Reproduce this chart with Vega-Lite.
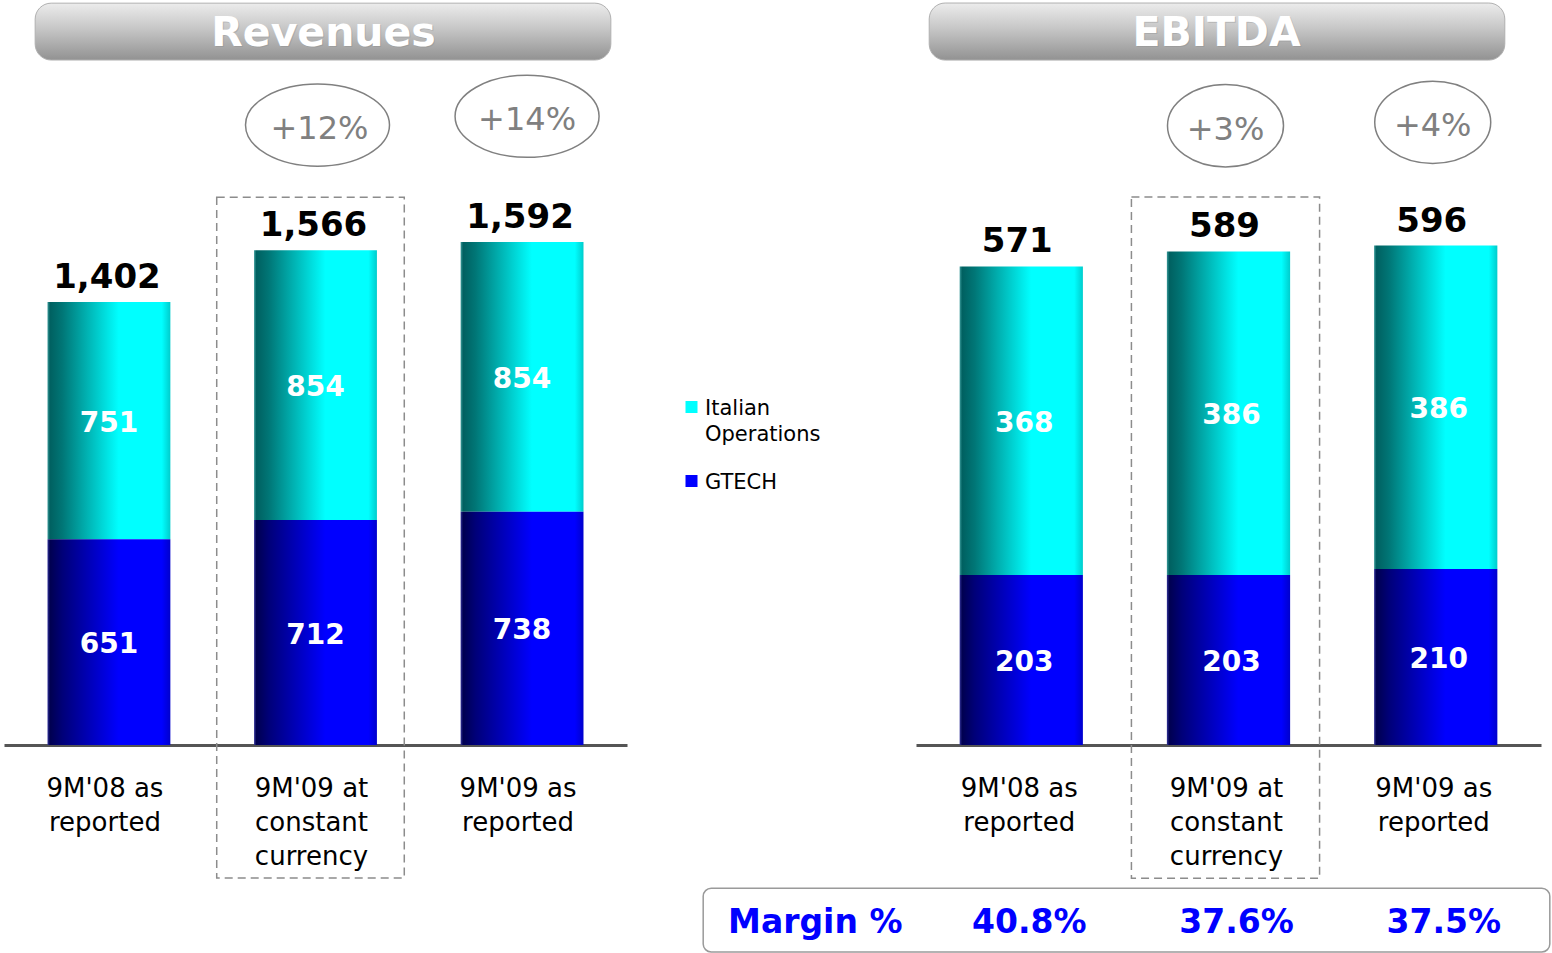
{
  "$schema": "https://vega.github.io/schema/vega-lite/v6.json",
  "background": "white",
  "padding": {"left": 4, "top": 0, "right": 0, "bottom": 0},
  "bounds": "flush",
  "spacing": 0,
  "config": {
    "view": {"stroke": null},
    "font": "DejaVu Sans",
    "text": {"font": "DejaVu Sans"}
  },
  "datasets": {
    "rev": [
      {"cat": "9M'08 as|reported", "series": "Italian Operations", "value": 751},
      {"cat": "9M'08 as|reported", "series": "GTECH", "value": 651},
      {"cat": "9M'09 at|constant|currency", "series": "Italian Operations", "value": 854},
      {"cat": "9M'09 at|constant|currency", "series": "GTECH", "value": 712},
      {"cat": "9M'09 as|reported", "series": "Italian Operations", "value": 854},
      {"cat": "9M'09 as|reported", "series": "GTECH", "value": 738}
    ],
    "ebitda": [
      {"cat": "9M'08 as|reported", "series": "Italian Operations", "value": 368},
      {"cat": "9M'08 as|reported", "series": "GTECH", "value": 203},
      {"cat": "9M'09 at|constant|currency", "series": "Italian Operations", "value": 386},
      {"cat": "9M'09 at|constant|currency", "series": "GTECH", "value": 203},
      {"cat": "9M'09 as|reported", "series": "Italian Operations", "value": 386},
      {"cat": "9M'09 as|reported", "series": "GTECH", "value": 210}
    ],
    "margin": [
      {"cat": "9M'08 as|reported", "margin": "40.8%"},
      {"cat": "9M'09 at|constant|currency", "margin": "37.6%"},
      {"cat": "9M'09 as|reported", "margin": "37.5%"}
    ]
  },
  "hconcat": [
    {
      "width": 623,
      "height": 745,
      "data": {"name": "rev"},
      "transform": [
        {"stack": "value", "groupby": ["cat"], "sort": [{"field": "series", "order": "ascending"}], "as": ["v0", "v1"]},
        {"calculate": "(datum.v0 + datum.v1) / 2", "as": "mid"}
      ],
      "layer": [
        {
          "transform": [{"filter": "datum.series == 'Italian Operations'"}],
          "mark": {"type": "bar", "width": {"band": 0.655}, "color": {"gradient": "linear", "x1": 0, "y1": 0, "x2": 1, "y2": 0, "stops": [{"offset": 0, "color": "#3a9a9a"}, {"offset": 0.02, "color": "#006060"}, {"offset": 0.12, "color": "#007676"}, {"offset": 0.58, "color": "#00ffff"}, {"offset": 0.93, "color": "#00ffff"}, {"offset": 1, "color": "#00cccc"}]}},
          "encoding": {
            "x": {"field": "cat", "type": "nominal", "sort": null,
              "scale": {"domain": ["9M'08 as|reported", "9M'09 at|constant|currency", "9M'09 as|reported"], "paddingInner": 0.092, "paddingOuter": 0.054},
              "axis": {"title": null, "domainColor": "#555555", "domainWidth": 3, "ticks": false, "labelFont": "DejaVu Sans", "labelFontSize": 26, "labelColor": "#000000", "labelPadding": 30, "labelAngle": 0, "labelLimit": 0, "labelLineHeight": 34, "labelExpr": "split(datum.label, '|')", "labelOffset": -4}},
            "y": {"field": "v1", "type": "quantitative", "scale": {"domain": [0, 2358], "nice": false, "zero": true}, "axis": null},
            "y2": {"field": "v0"}
          }
        },
        {
          "transform": [{"filter": "datum.series == 'GTECH'"}],
          "mark": {"type": "bar", "width": {"band": 0.655}, "color": {"gradient": "linear", "x1": 0, "y1": 0, "x2": 1, "y2": 0, "stops": [{"offset": 0, "color": "#333399"}, {"offset": 0.02, "color": "#000050"}, {"offset": 0.12, "color": "#000078"}, {"offset": 0.58, "color": "#0000ff"}, {"offset": 0.93, "color": "#0000ff"}, {"offset": 1, "color": "#0000cc"}]}},
          "encoding": {
            "x": {"field": "cat", "type": "nominal", "sort": null},
            "y": {"field": "v1", "type": "quantitative"},
            "y2": {"field": "v0"}
          }
        },
        {
          "mark": {"type": "text", "color": "white", "fontSize": 28, "fontWeight": "bold", "baseline": "middle", "dy": 3},
          "encoding": {
            "x": {"field": "cat", "type": "nominal", "sort": null},
            "y": {"field": "mid", "type": "quantitative"},
            "text": {"field": "value", "type": "quantitative", "format": ","}
          }
        },
        {
          "transform": [{"aggregate": [{"op": "sum", "field": "value", "as": "total"}], "groupby": ["cat"]}],
          "mark": {"type": "text", "color": "black", "fontSize": 34, "fontWeight": "bold", "baseline": "alphabetic", "dy": -14, "dx": -2},
          "encoding": {
            "x": {"field": "cat", "type": "nominal", "sort": null},
            "y": {"field": "total", "type": "quantitative"},
            "text": {"field": "total", "type": "quantitative", "format": ","}
          }
        },
        {
          "data": {"values": [{}]},
          "mark": {"type": "rect", "filled": false, "color": "#8c8c8c", "strokeWidth": 1.5, "strokeDash": [8, 5], "xOffset": -5},
          "encoding": {
            "x": {"datum": "9M'09 at|constant|currency"},
            "y": {"datum": 1734},
            "y2": {"datum": -421}
          }
        },
        {
          "data": {"values": [{}]},
          "mark": {"type": "rect", "cornerRadius": 16, "stroke": "#b0b0b0", "strokeWidth": 1, "fill": {"gradient": "linear", "x1": 0, "y1": 0, "x2": 0, "y2": 1, "stops": [{"offset": 0, "color": "#ececec"}, {"offset": 0.45, "color": "#c6c6c6"}, {"offset": 1, "color": "#929292"}]}, "xOffset": 20, "x2Offset": -5},
          "encoding": {
            "x": {"datum": "9M'08 as|reported", "bandPosition": 0},
            "x2": {"datum": "9M'09 as|reported", "bandPosition": 1},
            "y": {"datum": 2348},
            "y2": {"datum": 2168}
          }
        },
        {
          "data": {"values": [{"title": "Revenues"}]},
          "mark": {"type": "text", "color": "#888888", "opacity": 0.35, "fontSize": 41, "fontWeight": "bold", "baseline": "middle", "dx": 9, "dy": 3},
          "encoding": {
            "x": {"datum": "9M'09 at|constant|currency"},
            "y": {"datum": 2257},
            "text": {"field": "title"}
          }
        },
        {
          "data": {"values": [{"title": "Revenues"}]},
          "mark": {"type": "text", "color": "white", "fontSize": 41, "fontWeight": "bold", "baseline": "middle", "dx": 8, "dy": 2},
          "encoding": {
            "x": {"datum": "9M'09 at|constant|currency"},
            "y": {"datum": 2257},
            "text": {"field": "title"}
          }
        },
        {
          "data": {"values": [{}]},
          "mark": {"type": "point", "shape": "M-1,0A1,0.57,0,1,0,1,0A1,0.57,0,1,0,-1,0Z", "size": 20736, "filled": false, "color": "#808080", "strokeWidth": 1.5, "opacity": 1, "xOffset": 2},
          "encoding": {
            "x": {"datum": "9M'09 at|constant|currency"},
            "y": {"datum": 1962}
          }
        },
        {
          "data": {"values": [{"label": "+12%"}]},
          "mark": {"type": "text", "color": "#808080", "fontSize": 32, "baseline": "middle", "dx": 4, "dy": 4},
          "encoding": {
            "x": {"datum": "9M'09 at|constant|currency"},
            "y": {"datum": 1962},
            "text": {"field": "label"}
          }
        },
        {
          "data": {"values": [{}]},
          "mark": {"type": "point", "shape": "M-1,0A1,0.57,0,1,0,1,0A1,0.57,0,1,0,-1,0Z", "size": 20736, "filled": false, "color": "#808080", "strokeWidth": 1.5, "opacity": 1, "xOffset": 5},
          "encoding": {
            "x": {"datum": "9M'09 as|reported"},
            "y": {"datum": 1990}
          }
        },
        {
          "data": {"values": [{"label": "+14%"}]},
          "mark": {"type": "text", "color": "#808080", "fontSize": 32, "baseline": "middle", "dx": 5, "dy": 4},
          "encoding": {
            "x": {"datum": "9M'09 as|reported"},
            "y": {"datum": 1990},
            "text": {"field": "label"}
          }
        }
      ]
    },
    {
      "width": 289,
      "height": 745,
      "data": {"values": [{"series": "Italian Operations", "label": "Italian\nOperations"}, {"series": "GTECH", "label": "GTECH"}]},
      "layer": [
        {
          "mark": {"type": "point", "shape": "square", "filled": true, "size": 144, "opacity": 1},
          "encoding": {
            "x": {"datum": 0, "type": "quantitative", "scale": {"domain": [0, 1], "range": [64.5, 65.5]}, "axis": null},
            "y": {"field": "series", "type": "nominal", "scale": {"domain": ["Italian Operations", "GTECH"], "range": [407, 481], "padding": 0}, "axis": null},
            "color": {"field": "series", "type": "nominal", "scale": {"domain": ["Italian Operations", "GTECH"], "range": ["#00ffff", "#0000ff"]}, "legend": null}
          }
        },
        {
          "mark": {"type": "text", "align": "left", "baseline": "alphabetic", "dx": 13.5, "dy": 8, "fontSize": 21, "lineBreak": "\n", "lineHeight": 26, "color": "black"},
          "encoding": {
            "x": {"datum": 0, "type": "quantitative"},
            "y": {"field": "series", "type": "nominal"},
            "text": {"field": "label"}
          }
        }
      ]
    },
    {
      "width": 625,
      "height": 745,
      "data": {"name": "ebitda"},
      "transform": [
        {"stack": "value", "groupby": ["cat"], "sort": [{"field": "series", "order": "ascending"}], "as": ["v0", "v1"]},
        {"calculate": "(datum.v0 + datum.v1) / 2", "as": "mid"}
      ],
      "layer": [
        {
          "transform": [{"filter": "datum.series == 'Italian Operations'"}],
          "mark": {"type": "bar", "width": {"band": 0.655}, "color": {"gradient": "linear", "x1": 0, "y1": 0, "x2": 1, "y2": 0, "stops": [{"offset": 0, "color": "#3a9a9a"}, {"offset": 0.02, "color": "#006060"}, {"offset": 0.12, "color": "#007676"}, {"offset": 0.58, "color": "#00ffff"}, {"offset": 0.93, "color": "#00ffff"}, {"offset": 1, "color": "#00cccc"}]}},
          "encoding": {
            "x": {"field": "cat", "type": "nominal", "sort": null,
              "scale": {"domain": ["9M'08 as|reported", "9M'09 at|constant|currency", "9M'09 as|reported"], "paddingInner": 0.092, "paddingOuter": 0.054},
              "axis": {"title": null, "domainColor": "#555555", "domainWidth": 3, "ticks": false, "labelFont": "DejaVu Sans", "labelFontSize": 26, "labelColor": "#000000", "labelPadding": 30, "labelAngle": 0, "labelLimit": 0, "labelLineHeight": 34, "labelExpr": "split(datum.label, '|')", "labelOffset": -2}},
            "y": {"field": "v1", "type": "quantitative", "scale": {"domain": [0, 889], "nice": false, "zero": true}, "axis": null},
            "y2": {"field": "v0"}
          }
        },
        {
          "transform": [{"filter": "datum.series == 'GTECH'"}],
          "mark": {"type": "bar", "width": {"band": 0.655}, "color": {"gradient": "linear", "x1": 0, "y1": 0, "x2": 1, "y2": 0, "stops": [{"offset": 0, "color": "#333399"}, {"offset": 0.02, "color": "#000050"}, {"offset": 0.12, "color": "#000078"}, {"offset": 0.58, "color": "#0000ff"}, {"offset": 0.93, "color": "#0000ff"}, {"offset": 1, "color": "#0000cc"}]}},
          "encoding": {
            "x": {"field": "cat", "type": "nominal", "sort": null},
            "y": {"field": "v1", "type": "quantitative"},
            "y2": {"field": "v0"}
          }
        },
        {
          "mark": {"type": "text", "color": "white", "fontSize": 28, "fontWeight": "bold", "baseline": "middle", "dx": 3, "dy": 3},
          "encoding": {
            "x": {"field": "cat", "type": "nominal", "sort": null},
            "y": {"field": "mid", "type": "quantitative"},
            "text": {"field": "value", "type": "quantitative", "format": ","}
          }
        },
        {
          "transform": [{"aggregate": [{"op": "sum", "field": "value", "as": "total"}], "groupby": ["cat"]}],
          "mark": {"type": "text", "color": "black", "fontSize": 34, "fontWeight": "bold", "baseline": "alphabetic", "dy": -14, "dx": -4},
          "encoding": {
            "x": {"field": "cat", "type": "nominal", "sort": null},
            "y": {"field": "total", "type": "quantitative"},
            "text": {"field": "total", "type": "quantitative", "format": ","}
          }
        },
        {
          "data": {"values": [{}]},
          "mark": {"type": "rect", "filled": false, "color": "#8c8c8c", "strokeWidth": 1.5, "strokeDash": [8, 5], "xOffset": -3},
          "encoding": {
            "x": {"datum": "9M'09 at|constant|currency"},
            "y": {"datum": 654},
            "y2": {"datum": -159}
          }
        },
        {
          "data": {"values": [{}]},
          "mark": {"type": "rect", "cornerRadius": 16, "stroke": "#b0b0b0", "strokeWidth": 1, "fill": {"gradient": "linear", "x1": 0, "y1": 0, "x2": 0, "y2": 1, "stops": [{"offset": 0, "color": "#ececec"}, {"offset": 0.45, "color": "#c6c6c6"}, {"offset": 1, "color": "#929292"}]}, "xOffset": 2, "x2Offset": -25},
          "encoding": {
            "x": {"datum": "9M'08 as|reported", "bandPosition": 0},
            "x2": {"datum": "9M'09 as|reported", "bandPosition": 1},
            "y": {"datum": 885.4},
            "y2": {"datum": 817.3}
          }
        },
        {
          "data": {"values": [{"title": "EBITDA"}]},
          "mark": {"type": "text", "color": "#888888", "opacity": 0.35, "fontSize": 41, "fontWeight": "bold", "baseline": "middle", "dx": -11, "dy": 3},
          "encoding": {
            "x": {"datum": "9M'09 at|constant|currency"},
            "y": {"datum": 850.8},
            "text": {"field": "title"}
          }
        },
        {
          "data": {"values": [{"title": "EBITDA"}]},
          "mark": {"type": "text", "color": "white", "fontSize": 41, "fontWeight": "bold", "baseline": "middle", "dx": -12, "dy": 2},
          "encoding": {
            "x": {"datum": "9M'09 at|constant|currency"},
            "y": {"datum": 850.8},
            "text": {"field": "title"}
          }
        },
        {
          "data": {"values": [{}]},
          "mark": {"type": "point", "shape": "M-1,0A1,0.71,0,1,0,1,0A1,0.71,0,1,0,-1,0Z", "size": 13456, "filled": false, "color": "#808080", "strokeWidth": 1.5, "opacity": 1, "xOffset": -3},
          "encoding": {
            "x": {"datum": "9M'09 at|constant|currency"},
            "y": {"datum": 739}
          }
        },
        {
          "data": {"values": [{"label": "+3%"}]},
          "mark": {"type": "text", "color": "#808080", "fontSize": 32, "baseline": "middle", "dx": -3, "dy": 4},
          "encoding": {
            "x": {"datum": "9M'09 at|constant|currency"},
            "y": {"datum": 739},
            "text": {"field": "label"}
          }
        },
        {
          "data": {"values": [{}]},
          "mark": {"type": "point", "shape": "M-1,0A1,0.71,0,1,0,1,0A1,0.71,0,1,0,-1,0Z", "size": 13456, "filled": false, "color": "#808080", "strokeWidth": 1.5, "opacity": 1, "xOffset": -3},
          "encoding": {
            "x": {"datum": "9M'09 as|reported"},
            "y": {"datum": 743}
          }
        },
        {
          "data": {"values": [{"label": "+4%"}]},
          "mark": {"type": "text", "color": "#808080", "fontSize": 32, "baseline": "middle", "dx": -3, "dy": 4},
          "encoding": {
            "x": {"datum": "9M'09 as|reported"},
            "y": {"datum": 743},
            "text": {"field": "label"}
          }
        },
        {
          "data": {"values": [{}]},
          "mark": {"type": "rect", "filled": false, "color": "#9a9a9a", "strokeWidth": 1.5, "cornerRadius": 8, "xOffset": -224, "x2Offset": 20},
          "encoding": {
            "x": {"datum": "9M'08 as|reported", "bandPosition": 0},
            "x2": {"datum": "9M'09 as|reported", "bandPosition": 1},
            "y": {"datum": -171},
            "y2": {"datum": -247}
          }
        },
        {
          "data": {"name": "margin"},
          "mark": {"type": "text", "color": "#0000ff", "fontSize": 33, "fontWeight": "bold", "baseline": "middle", "dx": 8, "dy": 2},
          "encoding": {
            "x": {"field": "cat", "type": "nominal", "sort": null},
            "y": {"datum": -210},
            "text": {"field": "margin"}
          }
        },
        {
          "data": {"values": [{"label": "Margin %"}]},
          "mark": {"type": "text", "color": "#0000ff", "fontSize": 33, "fontWeight": "bold", "baseline": "middle", "dx": -206, "dy": 2},
          "encoding": {
            "x": {"datum": "9M'08 as|reported"},
            "y": {"datum": -210},
            "text": {"field": "label"}
          }
        }
      ]
    }
  ]
}
